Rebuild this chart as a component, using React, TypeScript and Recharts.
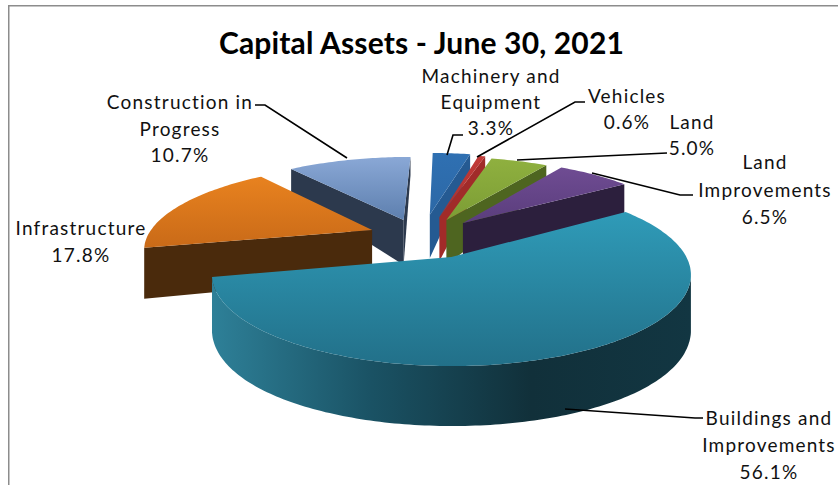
import React from "react";
import { PieChart, Pie } from "recharts";

const categories = ["Machinery and Equipment", "Vehicles", "Land", "Land Improvements", "Buildings and Improvements", "Infrastructure", "Construction in Progress"];
const shares = [3.3, 0.6, 5.0, 6.5, 56.1, 17.8, 10.7];
const title = "Capital Assets - June 30, 2021";
const chartData = categories.map((name, i) => ({ name, value: shares[i] }));

// Draw layers: back slice, then the small slices, then the front slice
const layers = [
  ["Construction in Progress"],
  ["Machinery and Equipment", "Vehicles", "Land", "Land Improvements", "Infrastructure"],
  ["Buildings and Improvements"],
];

const ASPECT = 235 / 88;
const PERSPECTIVE = 0.193;

type Look = { off: [number, number]; top: [string, string]; side: string[]; cut: string };
const looks: Record<string, Look> = {
  "Machinery and Equipment": { off: [-0.09, -0.53], top: ["#2f70b2", "#2c68a6"], side: ["#24507f", "#24507f"], cut: "#255a92" },
  "Vehicles": { off: [-0.045, -0.498], top: ["#c23a38", "#a92f2d"], side: ["#8a2624", "#8a2624"], cut: "#a12b29" },
  "Land": { off: [-0.012, -0.457], top: ["#8fb03f", "#7c9d35"], side: ["#5b7627", "#5b7627"], cut: "#4e6520" },
  "Land Improvements": { off: [0.064, -0.417], top: ["#6f4c93", "#5a3d7c"], side: ["#2e2040", "#2e2040"], cut: "#2c1f3d" },
  "Buildings and Improvements": { off: [0.01, 0], top: ["#2f9bb8", "#227089"], side: ["#2e8098", "#1a5264", "#11303a", "#123642"], cut: "#164a5a" },
  "Infrastructure": { off: [-0.348, -0.326], top: ["#e8821f", "#c96a18"], side: ["#4e2c0b", "#4a290b"], cut: "#4a2a0c" },
  "Construction in Progress": { off: [-0.21, -0.457], top: ["#8aa8d6", "#5d7fae"], side: ["#2c394d", "#2c394d"], cut: "#2c394d" },
};

type LabelSpec = { cx: number; lines: [string, number][]; leader?: string };
const labelSpecs: Record<string, LabelSpec> = {
  "Machinery and Equipment": { cx: 491, lines: [["Machinery and", 83], ["Equipment", 109], ["3.3%", 135]], leader: "463,135 453,135 447,155" },
  "Vehicles": { cx: 627, lines: [["Vehicles", 103], ["0.6%", 129]], leader: "585,102 575,102 477,157" },
  "Land": { cx: 692, lines: [["Land", 129], ["5.0%", 155]], leader: "667,153 517,160" },
  "Land Improvements": { cx: 765, lines: [["Land", 169], ["Improvements", 197], ["6.5%", 224]], leader: "693,195 680,195 592,173" },
  "Buildings and Improvements": { cx: 769, lines: [["Buildings and", 425], ["Improvements", 452], ["56.1%", 479]], leader: "703,418 695,418 565,409" },
  "Infrastructure": { cx: 81, lines: [["Infrastructure", 235], ["17.8%", 262]] },
  "Construction in Progress": { cx: 180, lines: [["Construction in", 109], ["Progress", 136], ["10.7%", 162]], leader: "255,105 265,105 347,158" },
};

const FONT = "Lato, 'Open Sans', sans-serif";

function makeShape(layer: string[]) {
  return function Slice3D(props: any) {
    const name: string = props.name ?? props.payload?.name;
    if (!layer.includes(name)) return <g />;
    const look = looks[name];
    const ry: number = props.outerRadius;
    const rx = ry * ASPECT;
    const { cx, cy, startAngle, endAngle } = props;
    const project = (u: number, v: number) => {
      const s = 1 / (1 - PERSPECTIVE * v);
      return { x: cx + rx * u * s, y: cy + ry * v * s, d: 52.7 + 14 * v - 6.7 * v * v };
    };
    const a0 = 90 - startAngle;
    const a1 = 90 - endAngle;
    const n = Math.max(2, Math.ceil(a1 - a0));
    const apex = project(look.off[0], look.off[1]);
    const arc: { x: number; y: number; d: number }[] = [];
    for (let i = 0; i <= n; i++) {
      const t = ((a0 + ((a1 - a0) * i) / n) * Math.PI) / 180;
      arc.push(project(look.off[0] + Math.sin(t), look.off[1] - Math.cos(t)));
    }
    const toPts = (ps: { x: number; y: number }[]) => ps.map((p) => `${p.x.toFixed(1)},${p.y.toFixed(1)}`).join(" ");
    const band = (ps: { x: number; y: number; d: number }[]) =>
      toPts([...ps, ...[...ps].reverse().map((p) => ({ x: p.x, y: p.y + p.d }))]);
    const id = name.replace(/\s/g, "");
    const faces: React.ReactNode[] = [];
    const cuts: [any, any][] = [[apex, arc[0]], [arc[arc.length - 1], apex]];
    cuts.forEach(([p, q], i) => {
      if (q.x < p.x) faces.push(<polygon key={`c${i}`} points={band([p, q])} fill={look.cut} />);
    });
    let run: typeof arc = [];
    const runs: (typeof arc)[] = [];
    for (let i = 0; i < arc.length - 1; i++) {
      if (arc[i + 1].x < arc[i].x) {
        if (run.length === 0) run.push(arc[i]);
        run.push(arc[i + 1]);
      } else if (run.length) {
        runs.push(run);
        run = [];
      }
    }
    if (run.length) runs.push(run);
    runs.forEach((r, i) => faces.push(<polygon key={`r${i}`} points={band(r)} fill={`url(#side${id})`} />));
    return (
      <g>
        <defs>
          <linearGradient id={`top${id}`} x1="0" y1="0" x2="0" y2="1">
            <stop offset="0" stopColor={look.top[0]} />
            <stop offset="1" stopColor={look.top[1]} />
          </linearGradient>
          <linearGradient id={`side${id}`} x1="1" y1="0" x2="0" y2="0">
            {[...look.side].reverse().map((c, i) => (
              <stop key={i} offset={i / (look.side.length - 1)} stopColor={c} />
            ))}
          </linearGradient>
        </defs>
        {faces}
        <polygon points={toPts([apex, ...arc])} fill={`url(#top${id})`} />
      </g>
    );
  };
}

function renderLabel(props: any) {
  const name: string = props.name ?? props.payload?.name;
  const spec = labelSpecs[name];
  if (!spec) return <g />;
  return (
    <g>
      {spec.leader && <polyline points={spec.leader} fill="none" stroke="#000" strokeWidth={1.6} />}
      {spec.lines.map(([text, y], i) => (
        <text key={i} x={spec.cx} y={y} textAnchor="middle" fontFamily={FONT} fontSize={19} letterSpacing={1.2} fill="#111">
          {text}
        </text>
      ))}
    </g>
  );
}

export default function App() {
  return (
    <div style={{ position: "absolute", left: 0, top: 0, width: 838, height: 485, overflow: "hidden", background: "#fff" }}>
      <PieChart width={838} height={485} margin={{ top: 0, right: 0, bottom: 0, left: 0 }}>
        <path d="M8.75 485 V5.75 H838" fill="none" stroke="#8c8c8c" strokeWidth={1.5} />
        <text x={421.5} y={54} textAnchor="middle" fontFamily={FONT} fontWeight={700} fontSize={30} letterSpacing={0.15} fill="#000">
          {title}
        </text>
        {layers.map((layer, i) => (
          <Pie
            key={i}
            data={chartData}
            dataKey="value"
            nameKey="name"
            cx={449}
            cy={257}
            outerRadius={88}
            startAngle={90}
            endAngle={-270}
            stroke="none"
            isAnimationActive={false}
            shape={makeShape(layer)}
            label={i === layers.length - 1 ? renderLabel : false}
            labelLine={false}
          />
        ))}
      </PieChart>
    </div>
  );
}
